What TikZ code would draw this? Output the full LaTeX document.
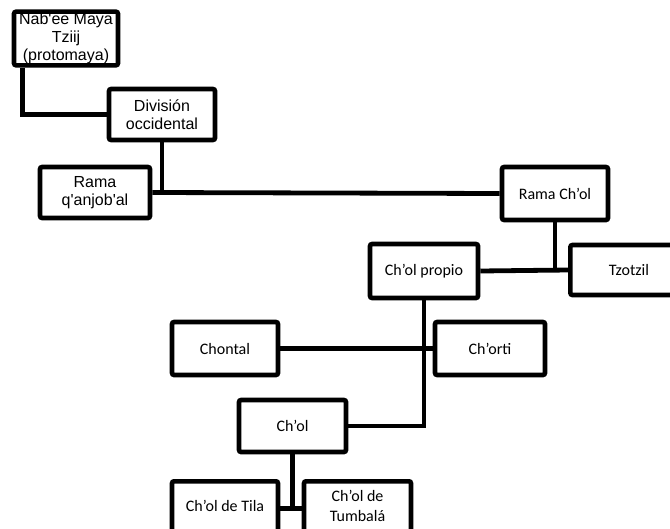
\documentclass[tikz,border=0pt]{standalone}
\usepackage{fontspec}
\usepackage{tikz}
\usetikzlibrary{calc,positioning}
\newfontfamily\arialfont{Liberation Sans}
\newfontfamily\calfont{Carlito}
\tikzset{
  >=stealth
}

\begin{document}
\begin{tikzpicture}[x=0.75pt,y=-0.75pt,
    caja/.style 2 args={rectangle,draw,line width=3.4pt,rounded corners=1.5pt,align=center,
      inner sep=1pt,minimum width=#1,minimum height=#2},
    ari/.style={font=\arialfont\fontsize{12}{13.5}\selectfont},
    cal/.style={font=\calfont\fontsize{12}{14.5}\selectfont},
    rama/.style={line width=3.6pt}
  ]
    \path[use as bounding box] (0,0) rectangle (670,528);
    \clip (0,0) rectangle (670,528);

    \node (nab) at (66,38.5) [caja={78pt}{39.75pt},ari] {Nab'ee Maya\\Tziij\\(protomaya)};
    \node (div) at (162,114.5) [caja={79.5pt}{38.25pt},ari] {División\\occidental};
    \node (rq) at (95,192.5) [caja={82.5pt}{38.25pt},ari] {Rama\\q'anjob'al};
    \node (rch) at (555,193.5) [caja={79.5pt}{39.75pt},cal] {Rama Ch’ol};
    \node (cp) at (424,271) [caja={81pt}{40.5pt},cal] {Ch’ol propio};
    \node (tz) at (629,270) [caja={88pt}{37.5pt},cal] {Tzotzil};
    \node (chontal) at (225,348.5) [caja={79.5pt}{39.75pt},cal] {Chontal};
    \node (chorti) at (490,348.5) [caja={82.5pt}{39.75pt},cal] {Ch’orti};
    \node (chol) at (292.5,426) [caja={80.25pt}{39pt},cal] {Ch’ol};
    \node (tila) at (225,479) [caja={79.5pt}{50pt},cal,anchor=north,text depth=13pt] {Ch’ol de Tila};
    \node (tumb) at (357.5,479) [caja={80.25pt}{50pt},cal,anchor=north,text depth=13pt] {Ch’ol de\\Tumbalá};

    % ramas
    \draw[rama] ([xshift=8.25pt]nab.south west) |- (div.west);
    \draw[rama] (rq.east) -- (rch.west);
    \draw[rama] (div.south) -- (div.south |- rq.east);
    \draw[rama] (cp.east) -- (tz.west);
    \draw[rama] (rch.south) -- (rch.south |- tz.west);
    \draw[rama] (chontal.east) -- (chorti.west);
    \draw[rama] (cp.south) |- (chol.east);
    \draw[rama] (tila.mid east) -- (tila.mid east -| tumb.west);
    \draw[rama] (chol.south) -- (chol.south |- tila.mid east);

\end{tikzpicture}
\end{document}
